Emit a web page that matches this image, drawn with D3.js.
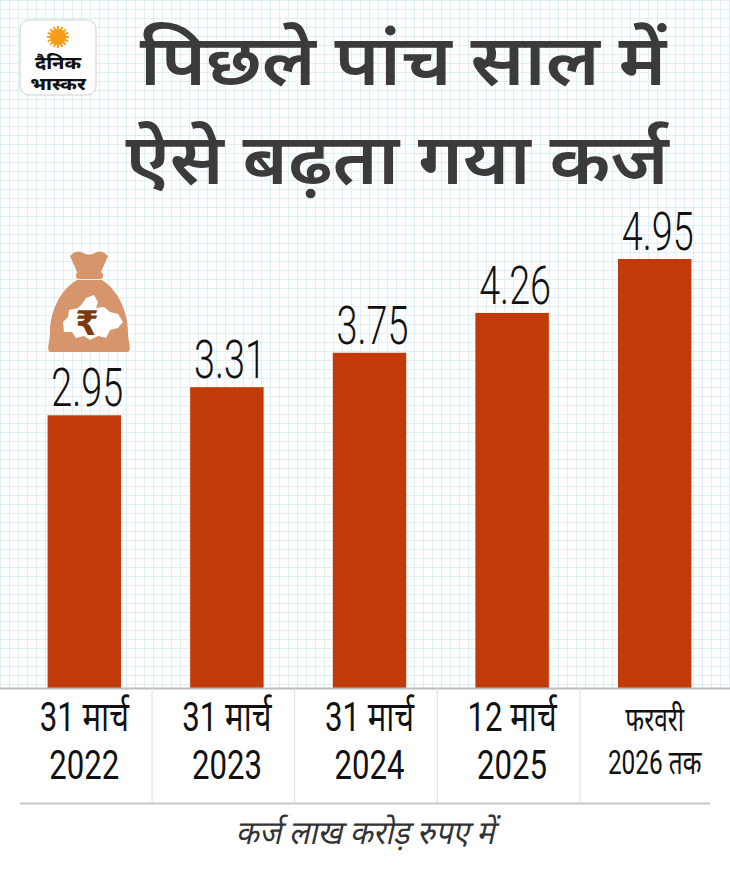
<!DOCTYPE html>
<html>
<head>
<meta charset="utf-8">
<script src="https://cdn.jsdelivr.net/npm/d3@7"></script>
<style>
  html, body { margin: 0; padding: 0; background: #fff; }
  svg { display: block; }
</style>
</head>
<body>
<div id="chart"></div>
<script>
// data
const categories = ["31 मार्च|2022", "31 मार्च|2023", "31 मार्च|2024", "12 मार्च|2025", "फरवरी|2026 तक"];
const debtValues = [2.95, 3.31, 3.75, 4.26, 4.95];
const valueLabels = ["2.95", "3.31", "3.75", "4.26", "4.95"];
const titleLines = ["पिछले पांच साल में", "ऐसे बढ़ता गया कर्ज"];
const footNote = "कर्ज लाख करोड़ रुपए में";

const W = 730, H = 872;
const baseY = 688;
const hindi = "Roboto, 'Noto Sans Devanagari', 'Noto Sans', sans-serif";
const barColor = "#c13a09";

const svg = d3.select("#chart").append("svg")
    .attr("width", W).attr("height", H);

// grid background (only above the axis)
const grid = svg.append("g");
grid.append("rect").attr("width", W).attr("height", baseY).attr("fill", "#fff");
const step = 9;
d3.range(0, W, step).forEach(x => {
    grid.append("line").attr("x1", x + 0.5).attr("x2", x + 0.5).attr("y1", 0).attr("y2", baseY)
        .attr("stroke", "#e0eff4").attr("stroke-width", 1);
});
d3.range(0, baseY, step).forEach(y => {
    grid.append("line").attr("y1", y + 0.5).attr("y2", y + 0.5).attr("x1", 0).attr("x2", W)
        .attr("stroke", "#e0eff4").attr("stroke-width", 1);
});

// logo
const logo = svg.append("g");
logo.append("rect").attr("x", 20).attr("y", 20).attr("width", 76).attr("height", 75).attr("rx", 9)
    .attr("fill", "#fff").attr("stroke", "#cfcfcf");
d3.range(16).forEach(i => {
    const a = i * Math.PI / 8;
    logo.append("line")
        .attr("x1", 58 + Math.cos(a) * 7).attr("y1", 37 + Math.sin(a) * 7)
        .attr("x2", 58 + Math.cos(a) * 11).attr("y2", 37 + Math.sin(a) * 11)
        .attr("stroke", "#f7a21b").attr("stroke-width", 2);
});
logo.append("circle").attr("cx", 58).attr("cy", 37).attr("r", 8).attr("fill", "#f89c1c");
[["दैनिक", 69], ["भास्कर", 90]].forEach(([t, yy]) => {
    logo.append("text").attr("transform", `translate(58,${yy}) scale(1.15,1)`).attr("text-anchor", "middle")
        .style("font-family", hindi).style("font-weight", 800).style("font-size", "17px")
        .attr("fill", "#111").text(t);
});

// title
svg.selectAll(".title").data(titleLines).join("text")
    .attr("class", "title")
    .attr("transform", (d, i) => `translate(${i === 0 ? 403 : 397},${85 + i * 99}) scale(1.08,1)`)
    .attr("text-anchor", "middle")
    .style("font-family", hindi).style("font-weight", 600).style("font-size", "70px")
    .attr("fill", "#3b3b3b")
    .text(d => d);

// scales (the graphic's bars are not zero-based; fitted floor)
const yFloor = -0.54;
const x = d3.scaleBand().domain(categories).range([13, 726]).padding(0);
const y = d3.scaleLinear().domain([yFloor, 4.95]).range([baseY, baseY - 429]);
const barW = x.bandwidth() * 0.515;

// bars
svg.selectAll(".bar").data(debtValues).join("rect")
    .attr("class", "bar")
    .attr("x", (d, i) => x(categories[i]) + x.bandwidth() / 2 - barW / 2)
    .attr("y", d => y(d))
    .attr("width", barW)
    .attr("height", d => baseY - y(d))
    .attr("fill", barColor);

// value labels
svg.selectAll(".val").data(debtValues).join("text")
    .attr("class", "val")
    .attr("transform", (d, i) => `translate(${x(categories[i]) + x.bandwidth() / 2 + 3},${y(d) - 9}) scale(0.7,1)`)
    .attr("text-anchor", "middle")
    .style("font-family", "Roboto, sans-serif").style("font-weight", 300).style("font-size", "54px")
    .attr("fill", "#111")
    .text((d, i) => valueLabels[i]);

// money bag icon
const bag = svg.append("g").attr("transform", "translate(48,250)");
bag.append("path")
    .attr("d", "M22,6 Q29,-1 35,3 Q41,6 47,3 Q53,-1 60,6 L53,22 L29,22 Z")
    .attr("fill", "#d7956b");
bag.append("rect").attr("x", 28).attr("y", 22).attr("width", 27).attr("height", 7).attr("rx", 3)
    .attr("fill", "#d7956b");
bag.append("path")
    .attr("d", "M29,30 L54,30 C68,38 80,60 80,82 C80,92 84,100 80,102 L2,102 C-2,100 2,92 2,82 C2,60 14,38 29,30 Z")
    .attr("fill", "#d7956b");
bag.append("path")
    .attr("d", "M38,48 L46,45 L50,52 L48,58 L56,57 L62,62 L70,64 L75,72 L70,78 L62,80 L58,88 L50,86 L42,90 L36,86 L28,88 L24,82 L16,82 L15,72 L20,67 L21,60 L30,58 L34,54 Z")
    .attr("fill", "#fff");
bag.append("text").attr("x", 39).attr("y", 85).attr("text-anchor", "middle")
    .style("font-family", "'DejaVu Sans', 'Noto Sans', sans-serif").style("font-weight", 700).style("font-size", "34px")
    .attr("fill", "#7a3a10").text("₹");

// axis line & separators
svg.append("line").attr("x1", 0).attr("x2", W).attr("y1", baseY + 0.5).attr("y2", baseY + 0.5)
    .attr("stroke", "#bdbdbd").attr("stroke-width", 2);
svg.append("line").attr("x1", 20).attr("x2", 710).attr("y1", 803.5).attr("y2", 803.5)
    .attr("stroke", "#c8c8c8").attr("stroke-width", 2);
categories.slice(1).forEach(c => {
    svg.append("line").attr("x1", x(c) - 3.5).attr("x2", x(c) - 3.5).attr("y1", baseY).attr("y2", 803)
        .attr("stroke", "#dddddd").attr("stroke-width", 1);
});

// category labels
const cat = svg.selectAll(".cat").data(categories).join("g")
    .attr("class", "cat")
    .attr("transform", d => `translate(${x(d) + x.bandwidth() / 2},0)`);
cat.each(function(d, i) {
    const parts = d.split("|");
    const last = i === categories.length - 1;
    const g = d3.select(this);
    parts.forEach((p, j) => {
        g.append("text")
            .attr("transform", `translate(0,${731 + j * (last ? 43 : 48)}) scale(${last ? 0.74 : 0.76},1)`)
            .attr("text-anchor", "middle")
            .style("font-family", hindi)
            .style("font-size", last ? "33px" : "41px")
            .attr("fill", "#111")
            .text(p);
    });
});

// footnote
svg.append("text")
    .attr("transform", "translate(365,844) scale(0.92,1)")
    .attr("text-anchor", "middle")
    .style("font-family", hindi).style("font-style", "italic").style("font-size", "33px")
    .attr("fill", "#333")
    .text(footNote);
</script>
</body>
</html>
